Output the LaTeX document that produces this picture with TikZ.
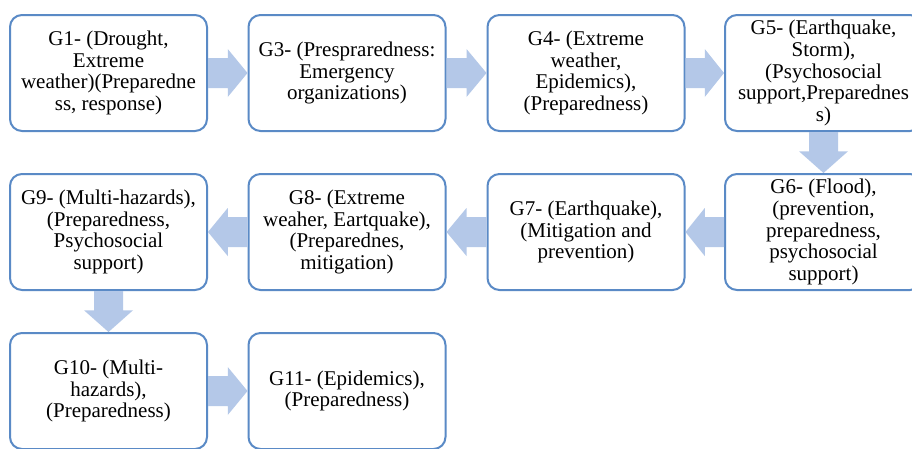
\documentclass[tikz,border=0pt]{standalone}
\usepackage{fontspec}
\setmainfont{Liberation Serif}
\usetikzlibrary{calc}
\definecolor{boxline}{HTML}{5A8AC6}
\definecolor{arrowc}{HTML}{B4C8E8}
\tikzset{
  gbox/.style={draw=boxline, line width=2pt, rounded corners=12pt, fill=white,
    minimum width=197pt, minimum height=116pt, inner sep=0pt, align=center,
    font=\fontsize{21}{21.7}\selectfont},
  blockarrow/.style={fill=arrowc, draw=none}
}
% horizontal block arrow from anchor #1 to anchor #2
\newcommand\hblockarrow[2]{%
  \fill[blockarrow] ($(#1)+(0,-15)$) -- ($(#1)!.5!(#2)+(0,-15)$) -- ($(#1)!.5!(#2)+(0,-24)$)
    -- (#2) -- ($(#1)!.5!(#2)+(0,24)$) -- ($(#1)!.5!(#2)+(0,15)$) -- ($(#1)+(0,15)$) -- cycle;}
% vertical block arrow from anchor #1 to anchor #2
\newcommand\vblockarrow[2]{%
  \fill[blockarrow] ($(#1)+(-14.5,0)$) -- ($(#1)!.47!(#2)+(-14.5,0)$) -- ($(#1)!.47!(#2)+(-24.5,0)$)
    -- (#2) -- ($(#1)!.47!(#2)+(24.5,0)$) -- ($(#1)!.47!(#2)+(14.5,0)$) -- ($(#1)+(14.5,0)$) -- cycle;}
\begin{document}
\begin{tikzpicture}[x=1pt,y=-1pt]
\useasboundingbox (0,0) rectangle (912,448);
\fill[white] (0,0) rectangle (912,448);
\clip (0,0) rectangle (912,448);
% row 1
\node[gbox] (g1) at (108.5,73) {G1- (Drought,\\Extreme\\weather)(Preparedne\\ss, response)};
\node[gbox] (g3) at (347,73) {G3- (Prespraredness:\\Emergency\\organizations)};
\node[gbox] (g4) at (586,73) {G4- (Extreme\\weather,\\Epidemics),\\(Preparedness)};
\node[gbox] (g5) at (823.5,73) {G5- (Earthquake,\\Storm),\\(Psychosocial\\support,Preparednes\\s)};
% row 2
\node[gbox] (g6) at (823.5,232) {G6- (Flood),\\(prevention,\\preparedness,\\psychosocial\\support)};
\node[gbox] (g7) at (586,232) {G7- (Earthquake),\\(Mitigation and\\prevention)};
\node[gbox] (g8) at (347,232) {G8- (Extreme\\weaher, Eartquake),\\(Preparednes,\\mitigation)};
\node[gbox] (g9) at (108.5,232) {G9- (Multi-hazards),\\(Preparedness,\\Psychosocial\\support)};
% row 3
\node[gbox] (g10) at (108.5,391) {G10- (Multi-\\hazards),\\(Preparedness)};
\node[gbox] (g11) at (347,391) {G11- (Epidemics),\\(Preparedness)};
% arrows
\hblockarrow{g1.east}{g3.west}
\hblockarrow{g3.east}{g4.west}
\hblockarrow{g4.east}{g5.west}
\vblockarrow{g5.south}{g6.north}
\hblockarrow{g6.west}{g7.east}
\hblockarrow{g7.west}{g8.east}
\hblockarrow{g8.west}{g9.east}
\vblockarrow{g9.south}{g10.north}
\hblockarrow{g10.east}{g11.west}
\end{tikzpicture}
\end{document}
